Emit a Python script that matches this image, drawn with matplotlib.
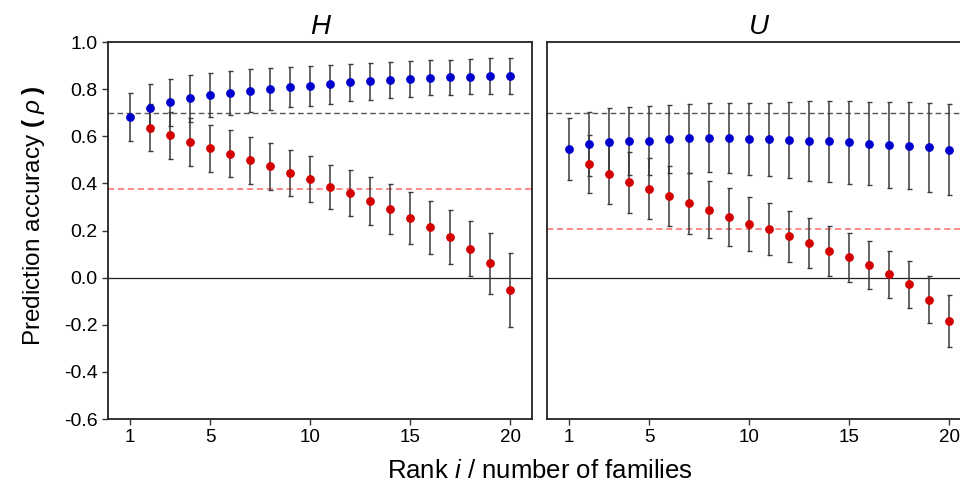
import numpy as np
import matplotlib
matplotlib.use("Agg")
import matplotlib.pyplot as plt

plt.rcParams['font.family'] = ['Liberation Sans', 'DejaVu Sans']
plt.rcParams['mathtext.fontset'] = 'custom'
plt.rcParams['mathtext.it'] = 'Liberation Sans:italic'
plt.rcParams['mathtext.rm'] = 'Liberation Sans'
plt.rcParams['mathtext.bf'] = 'Liberation Sans:bold'

rank = list(range(1, 21))
rank_red = list(range(2, 21))

# H panel
h_blue = [0.682, 0.721, 0.745, 0.762, 0.775, 0.784, 0.794, 0.801, 0.809, 0.813,
          0.820, 0.829, 0.834, 0.839, 0.843, 0.848, 0.850, 0.853, 0.856, 0.855]
h_blue_err = [0.100, 0.100, 0.100, 0.100, 0.092, 0.092, 0.090, 0.089, 0.086, 0.085,
              0.083, 0.078, 0.078, 0.075, 0.075, 0.074, 0.076, 0.075, 0.075, 0.077]
h_red = [0.636, 0.604, 0.576, 0.550, 0.526, 0.499, 0.472, 0.445, 0.419,
         0.385, 0.358, 0.326, 0.291, 0.253, 0.213, 0.172, 0.123, 0.061, -0.053]
h_red_err = [0.100, 0.100, 0.100, 0.100, 0.100, 0.100, 0.100, 0.098, 0.097,
             0.095, 0.098, 0.102, 0.105, 0.110, 0.112, 0.115, 0.116, 0.130, 0.158]
h_ref_gray = 0.70
h_ref_red = 0.377

# U panel
u_blue = [0.545, 0.568, 0.576, 0.581, 0.582, 0.589, 0.591, 0.594, 0.593, 0.589,
          0.587, 0.584, 0.579, 0.578, 0.574, 0.569, 0.564, 0.560, 0.554, 0.544]
u_blue_err = [0.131, 0.136, 0.145, 0.144, 0.146, 0.143, 0.146, 0.146, 0.148, 0.152,
              0.156, 0.161, 0.169, 0.172, 0.177, 0.177, 0.182, 0.185, 0.189, 0.193]
u_red = [0.482, 0.438, 0.404, 0.377, 0.348, 0.315, 0.288, 0.257, 0.228,
         0.205, 0.175, 0.146, 0.114, 0.086, 0.052, 0.015, -0.029, -0.094, -0.184]
u_red_err = [0.122, 0.126, 0.128, 0.130, 0.127, 0.128, 0.121, 0.122, 0.115,
             0.110, 0.110, 0.107, 0.107, 0.104, 0.102, 0.100, 0.100, 0.100, 0.112]
u_ref_gray = 0.70
u_ref_red = 0.208

panels = [
    ("H", h_blue, h_blue_err, h_red, h_red_err, h_ref_gray, h_ref_red),
    ("U", u_blue, u_blue_err, u_red, u_red_err, u_ref_gray, u_ref_red),
]

fig = plt.figure(figsize=(9.6, 4.82), dpi=100)
# right panel runs past the figure edge, as in the cropped original
ax_pos = [[0.1128, 0.1307, 0.4417, 0.782],
          [0.5701, 0.1307, 0.4417, 0.782]]

yt = np.arange(-0.6, 1.01, 0.2)

for k, (title, b, be, r, re, gref, rref) in enumerate(panels):
    ax = fig.add_axes(ax_pos[k])
    ax.axhline(0, color='#222222', lw=0.9, zorder=1)
    ax.axhline(gref, color='#555555', lw=1.0, ls=(0, (4, 2.5)), zorder=1)
    ax.axhline(rref, color='#ff6a6a', lw=1.1, ls=(0, (4, 2.5)), zorder=1)
    ax.errorbar(rank_red, r, yerr=re, fmt='o', ms=5.3, color='#d40000',
                ecolor='#3a3a3a', elinewidth=1.1, capsize=1.8, capthick=1.0, zorder=3)
    ax.errorbar(rank, b, yerr=be, fmt='o', ms=5.3, color='#0000cc',
                ecolor='#3a3a3a', elinewidth=1.1, capsize=1.8, capthick=1.0, zorder=3)
    ax.set_xlim(-0.1, 21.1)
    ax.set_ylim(-0.6, 1.0)
    ax.set_xticks([1, 5, 10, 15, 20])
    ax.set_yticks(yt)
    ax.tick_params(axis='x', labelsize=13.5, length=4, width=1, color='#333333')
    ax.tick_params(axis='y', labelsize=14, length=4, width=1, color='#333333')
    for s in ax.spines.values():
        s.set_linewidth(1.3)
        s.set_color('#222222')
    ax.set_title(title, fontsize=20, style='italic', pad=6)
    if k == 0:
        ax.set_yticklabels(['%.1f' % v for v in yt])
        ax.set_ylabel(r'Prediction accuracy $\mathbf{(}\;\rho\;\mathbf{)}$', fontsize=17.5)
        ax.yaxis.set_label_coords(-0.145, 0.538)
    else:
        ax.set_yticks([])

fig.text(0.5625, 0.0083, 'Rank $i$ / number of families', ha='center', va='baseline',
         fontsize=18.5)

fig.savefig('out.png', dpi=100)
